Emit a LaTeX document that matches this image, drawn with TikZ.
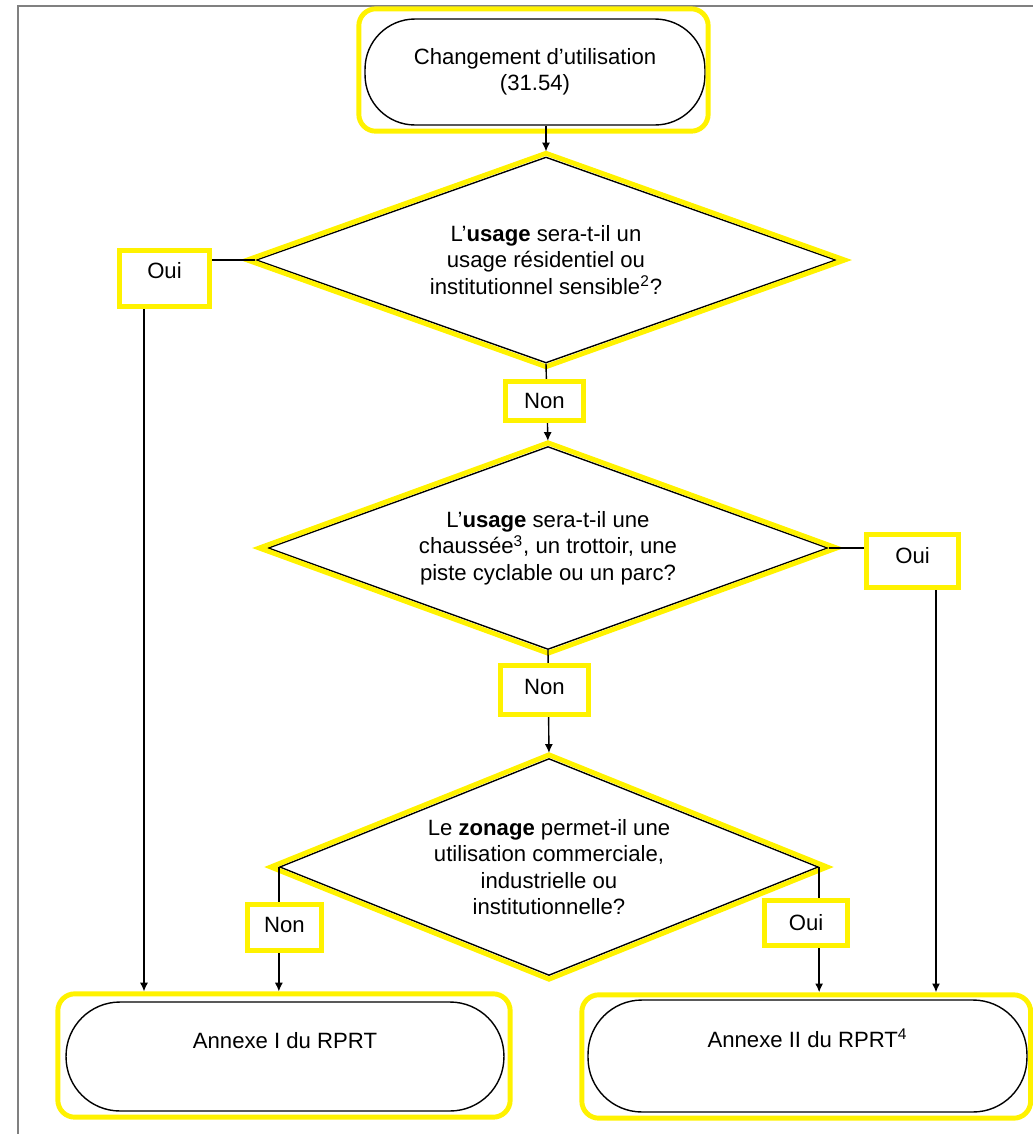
\documentclass[tikz,border=0pt]{standalone}
\usepackage{fontspec}
\setmainfont{Liberation Sans}
\usetikzlibrary{shapes.geometric}
\usetikzlibrary{arrows.meta}

\begin{document}
\begin{tikzpicture}[x=0.02cm, y=-0.02cm,
        font=\fontsize{12.6}{15}\selectfont,
        every node/.style={inner sep=0pt},
        terminal/.style={draw, line width=0.8pt, align=center},
        decision/.style={draw, diamond, line width=0.8pt, align=center},
        answer/.style={draw=yellow, fill=white, line width=2.8pt},
        hlbox/.style={draw=yellow, line width=2.8pt, rounded corners=0.34cm},
        hldia/.style={draw=yellow, line width=2.8pt},
        arr/.style={line width=0.8pt, -{Latex[length=5pt, width=4.6pt]}}]
    \useasboundingbox (0,0) rectangle (1033,1134);
    % page frame
    \draw[black!50, line width=1.1pt] (18,1134) -- (18,6) -- (1033,6);

    \node[terminal, rounded corners=1cm, minimum width=6.8cm, minimum height=2.12cm]
        (start) at (535,72) {Changement d’utilisation\\(31.54)};
    \node[decision, minimum width=11.6cm, minimum height=4.12cm, aspect=2.8]
        (d1) at (546,260) {L’\textbf{usage} sera-t-il un\\usage résidentiel ou\\institutionnel sensible\textsuperscript{2}?};
    \node[decision, minimum width=11.2cm, minimum height=4.06cm, aspect=2.8]
        (d2) at (548,548) {L’\textbf{usage} sera-t-il une\\chaussée\textsuperscript{3}, un trottoir, une\\piste cyclable ou un parc?};
    \node[decision, minimum width=10.78cm, minimum height=4.34cm, aspect=2.5]
        (d3) at (549,867) {Le \textbf{zonage} permet-il une\\utilisation commerciale,\\industrielle ou\\institutionnelle?};
    \node[terminal, rounded corners=1.08cm, minimum width=8.76cm, minimum height=2.18cm, text depth=18pt]
        (a1) at (285,1056.5) {Annexe I du RPRT};
    \node[terminal, rounded corners=1.08cm, minimum width=8.78cm, minimum height=2.24cm, text depth=20pt]
        (a2) at (807.5,1056) {Annexe II du RPRT\textsuperscript{4}};

    \coordinate (c1) at (144,260);
    \coordinate (c2) at (936,548);

    % yellow highlights
    \draw[hlbox] ([shift={(-5.5,-9.5)}]start.north west) rectangle ([shift={(2.5,5.5)}]start.south east);
    \draw[hlbox] ([shift={(-7.5,-7.5)}]a1.north west) rectangle ([shift={(5.5,5.5)}]a1.south east);
    \draw[hlbox] ([shift={(-5.5,-4.5)}]a2.north west) rectangle ([shift={(3,5.5)}]a2.south east);
    \foreach \d in {d1,d2,d3}
        \draw[hldia] ([shift={(0,-3)}]\d.north) -- ([shift={(-8,0)}]\d.west)
            -- ([shift={(0,3)}]\d.south) -- ([shift={(8,0)}]\d.east) -- cycle;

    % connectors
    \draw[arr, shorten >=2.8pt] (start.south -| d1.north) -- (d1.north);
    \draw[arr, shorten >=5.6pt] (d1.west) -- (c1) -- (c1 |- a1.north);
    \draw[arr, shorten >=2.8pt] (d1.south) -- (d2.north);
    \draw[arr, shorten >=4pt] (d2.east) -- (c2) -- (c2 |- a2.north);
    \draw[arr, shorten >=2.8pt] (d2.south) -- (d3.north);
    \draw[arr, shorten >=5.6pt] (d3.west) -- (d3.west |- a1.north);
    \draw[arr, shorten >=4pt] (d3.east) -- (d3.east |- a2.north);

    \node[answer, minimum width=1.8cm, minimum height=1.12cm, text depth=9.6pt] (oui1) at (164.5,278.5) {Oui};
    \node[answer, minimum width=1.56cm, minimum height=0.78cm] (non1) at (544.5,401) {Non};
    \node[answer, minimum width=1.84cm, minimum height=1.06cm, text depth=6.8pt] (oui2) at (912.5,561) {Oui};
    \node[answer, minimum width=1.76cm, minimum height=0.98cm, text depth=3.4pt] (non2) at (544.5,690) {Non};
    \node[answer, minimum width=1.48cm, minimum height=0.92cm, text depth=2.8pt] (non3) at (284.5,927.5) {Non};
    \node[answer, minimum width=1.66cm, minimum height=0.9cm] (oui3) at (806,923) {Oui};
\end{tikzpicture}
\end{document}
